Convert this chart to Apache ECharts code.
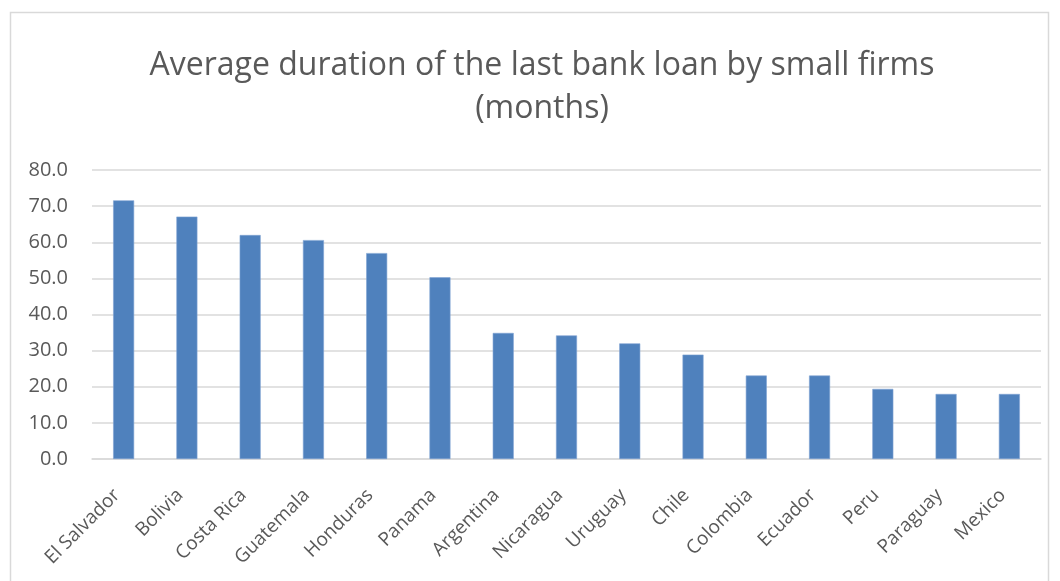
<!DOCTYPE html>
<html>
<head>
<meta charset="utf-8">
<script src="https://cdn.jsdelivr.net/npm/echarts@6/dist/echarts.min.js"></script>
<style>
  html, body { margin: 0; padding: 0; background: #ffffff; }
  #chart { width: 1060px; height: 581px; }
</style>
</head>
<body>
<div id="chart"></div>
<script>
// Countries, ordered by average loan duration
const countries = ['El Salvador', 'Bolivia', 'Costa Rica', 'Guatemala', 'Honduras', 'Panama',
  'Argentina', 'Nicaragua', 'Uruguay', 'Chile', 'Colombia', 'Ecuador', 'Peru', 'Paraguay', 'Mexico'];

// Average duration of the last bank loan (months)
const durationMonths = [71.6, 67.1, 62.0, 60.6, 57.0, 50.3, 34.9, 34.2, 32.0, 28.9, 23.1, 23.1, 19.4, 18.0, 18.0];

// Value axis range
const yMin = 0;
const yMax = 80;
const yStep = 10;

const chartTitle = 'Average duration of the last bank loan by small firms\n(months)';

const textColor = '#595959';
const gridColor = '#d9d9d9';
const barColor = '#4f81bd';

const chart = echarts.init(document.getElementById('chart'), null, { renderer: 'canvas' });

chart.setOption({
  backgroundColor: '#ffffff',
  animation: false,
  graphic: [{
    type: 'rect',
    shape: { x: 10.5, y: 12.5, width: 1038, height: 600 },
    style: { fill: 'none', stroke: gridColor, lineWidth: 1.5 },
    silent: true
  }],
  title: {
    text: chartTitle,
    left: 537,
    textAlign: 'center',
    top: 39,
    textStyle: {
      fontFamily: 'Open Sans',
      fontSize: 32,
      fontWeight: 'normal',
      color: textColor,
      lineHeight: 43
    }
  },
  grid: {
    left: 92,
    right: 19,
    top: 170,
    bottom: 122
  },
  xAxis: {
    type: 'category',
    data: countries,
    axisLine: { show: true, lineStyle: { color: gridColor, width: 1.5 } },
    axisTick: { show: false },
    axisLabel: {
      rotate: 45,
      interval: 0,
      margin: 40,
      verticalAlign: 'bottom',
      fontFamily: 'Open Sans',
      fontSize: 19,
      color: textColor
    }
  },
  yAxis: {
    type: 'value',
    min: yMin,
    max: yMax,
    interval: yStep,
    axisLine: { show: false },
    axisTick: { show: false },
    splitLine: { lineStyle: { color: gridColor, width: 1.5 } },
    axisLabel: {
      margin: 24,
      fontFamily: 'Open Sans',
      fontSize: 20,
      color: textColor,
      formatter: v => v.toFixed(1)
    }
  },
  series: [{
    type: 'bar',
    data: durationMonths,
    barWidth: 21,
    itemStyle: { color: barColor, borderColor: '#7fa2d3', borderWidth: 0.6 }
  }]
});
</script>
</body>
</html>
